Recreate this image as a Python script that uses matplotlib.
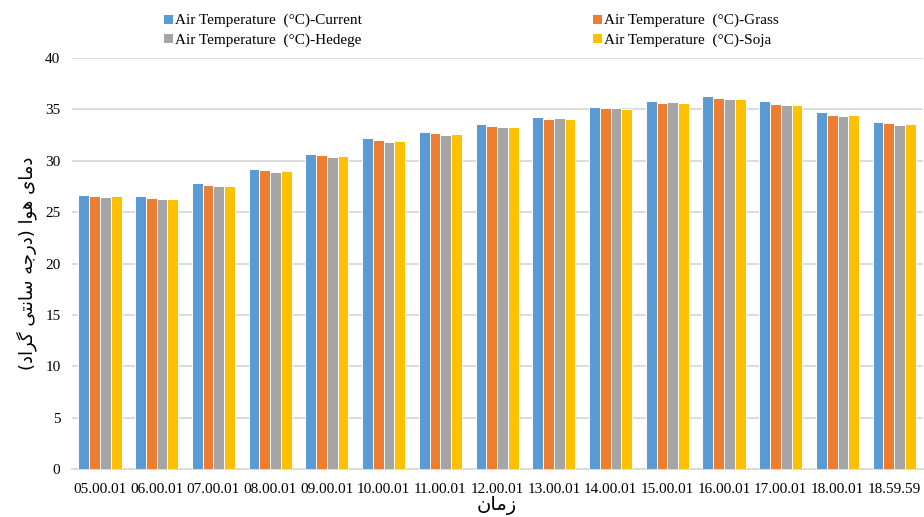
import matplotlib
matplotlib.use('Agg')
import matplotlib.pyplot as plt
import numpy as np

plt.rcParams['font.family'] = ['Liberation Serif', 'DejaVu Sans']

times = ['05.00.01', '06.00.01', '07.00.01', '08.00.01', '09.00.01',
         '10.00.01', '11.00.01', '12.00.01', '13.00.01', '14.00.01',
         '15.00.01', '16.00.01', '17.00.01', '18.00.01', '18.59.59']
current = [26.7, 26.6, 27.8, 29.2, 30.7, 32.2, 32.8, 33.6, 34.3, 35.2,
           35.8, 36.3, 35.8, 34.7, 33.8]
grass = [26.6, 26.4, 27.6, 29.1, 30.6, 32.0, 32.7, 33.4, 34.1, 35.1,
         35.6, 36.1, 35.5, 34.5, 33.7]
hedege = [26.5, 26.3, 27.5, 28.9, 30.4, 31.8, 32.5, 33.3, 34.2, 35.1,
          35.7, 36.0, 35.4, 34.4, 33.5]
soja = [26.6, 26.3, 27.5, 29.0, 30.5, 31.9, 32.6, 33.3, 34.1, 35.0,
        35.6, 36.0, 35.4, 34.5, 33.6]

series = [('Air Temperature  (°C)-Current', current, '#5B9BD5'),
          ('Air Temperature  (°C)-Grass', grass, '#ED7D31'),
          ('Air Temperature  (°C)-Hedege', hedege, '#A5A5A5'),
          ('Air Temperature  (°C)-Soja', soja, '#FFC000')]

# persian labels written in visual order with presentation forms
ylab = ('(\uFEA9\uFE8D\uFEAE\uFB94 \uFBFD\uFE98\uFEE7\uFE8E\uFEB3 '
        '\uFEEA\uFE9F\uFEAD\uFEA9) \uFE8D\uFEEE\uFEEB \uFBFC\uFE8E\uFEE3\uFEA9')
xlab = '\uFEE5\uFE8E\uFEE3\uFEAF'

fig = plt.figure(figsize=(9.24, 5.17), dpi=100)
ax = fig.add_axes([0.0775, 0.0928, 0.921, 0.795])

x = np.arange(len(times))
w = 0.19
handles = []
for i, (name, vals, col) in enumerate(series):
    b = ax.bar(x + (i - 1.5) * w, vals, w, color=col, edgecolor='white',
               linewidth=0.7, label=name, zorder=3)
    handles.append(b)

ax.set_xlim(-0.5, len(times) - 0.5)
ax.set_ylim(0, 40)
ax.set_yticks(np.arange(0, 41, 5))
ax.set_xticks(x)
ax.set_xticklabels(times, fontsize=11)
ax.tick_params(axis='y', labelsize=11, length=0, pad=8)
ax.tick_params(axis='x', length=0, pad=10)
ax.grid(axis='y', color='#D9D9D9', linewidth=1.3, zorder=0)
for s in ['top', 'right', 'left']:
    ax.spines[s].set_visible(False)
ax.spines['bottom'].set_color('#D9D9D9')
ax.spines['bottom'].set_linewidth(1.3)

ax.set_ylabel(ylab, fontsize=13, family=['DejaVu Sans'], labelpad=6)
ax.set_xlabel(xlab, fontsize=14, family=['DejaVu Sans'], labelpad=0)

# legend fills column-wise, so order gives rows Current/Grass, Hedege/Soja
order = [0, 2, 1, 3]
fig.legend(handles=[handles[k] for k in order], loc='upper left',
           bbox_to_anchor=(0.162, 1.0), ncol=2, frameon=False, fontsize=11,
           handlelength=0.6, handleheight=0.6, handletextpad=0.15,
           columnspacing=15.1, labelspacing=0.4)

fig.savefig('out.png', dpi=100)
